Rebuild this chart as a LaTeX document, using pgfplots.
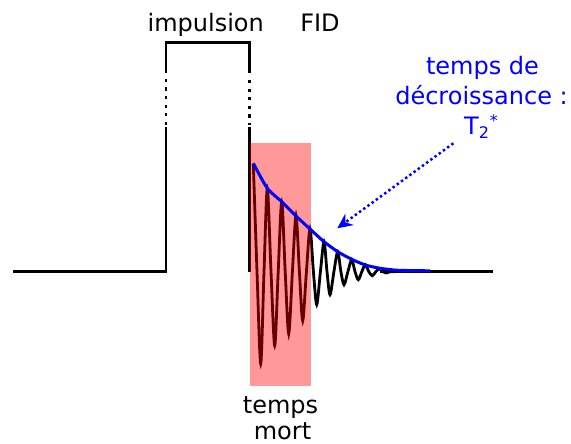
\documentclass[border=0pt]{standalone}
\usepackage{fontspec}
\setmainfont{DejaVu Sans}
\usepackage{pgfplots}
\pgfplotsset{compat=1.18}
\usetikzlibrary{arrows.meta}

\tikzset{lab/.style={anchor=base, inner sep=0pt, font=\fontsize{12}{14}\selectfont}}

% drawing units: 1 unit = 1 px of the 571x443 reference, y downwards
\begin{document}
\begin{tikzpicture}
\begin{axis}[
  width=285.5pt, height=221.5pt, scale only axis,
  xmin=0, xmax=571, ymin=0, ymax=443, y dir=reverse,
  hide axis, clip=false,
]
% invisible frame so the page is the whole drawing area
\addplot[draw=none] coordinates {(0,0)(571,443)};

% pulse and baseline
\addplot[black, line width=1.25pt] coordinates {(13.3,271.7)(166,271.7)(166,127)};
\addplot[black, line width=1.4pt, dash pattern=on 1.6pt off 2.7pt] coordinates {(166,125)(166,75)};
\addplot[black, line width=1.25pt] coordinates {(166,73)(166,42.7)(249.3,42.7)(249.3,73)};
\addplot[black, line width=1.4pt, dash pattern=on 1.6pt off 2.7pt] coordinates {(249.3,80)(249.3,125)};
\addplot[black, line width=1.25pt] coordinates {(249.3,127)(249.3,271.7)};
\addplot[black, line width=1.25pt] coordinates {(380,271.7)(493.3,271.7)};

% free induction decay
\addplot[black, line width=1.4pt, smooth] coordinates {
  (253.3,163.5)(257,271.7)(260.7,363.7)(264,271.7)
  (267.3,188.5)(271,271.7)(274.7,345.7)(278.2,271.7)
  (281.7,201.7)(285.2,271.7)(288.7,333.7)(292.4,271.7)
  (296,215.7)(299.4,271.7)(302.7,320.7)(306.4,271.7)
  (310,228.7)(313.4,271.7)(316.7,304.7)(320.4,271.7)
  (324,241.7)(327,271.7)(330,294.7)(333.9,271.7)
  (337.7,251.7)(340.9,271.7)(344,284.7)(347.9,271.7)
  (351.7,259.7)(355,271.7)(358.3,279.7)(361.8,271.7)
  (365.3,264.7)(368.8,271.7)(372.3,275.7)(375.8,271.7)
  (379.5,268.7)(383,271.7)(386,273)(390,271.7)(395,271.7)
};

% dead time
\addplot[draw=none, fill=red, fill opacity=0.4] coordinates {
  (249.5,143)(310.5,143)(310.5,386)(249.5,386)} -- cycle;

% T2* envelope
\addplot[blue, line width=1.5pt, smooth, tension=0.4] coordinates {
  (253.3,163.3)(267.3,188.3)(281.7,201.7)(296,216)(310,229)(324,241.7)
  (337.7,251.7)(351.7,259.3)(365.3,265)(380,268.3)(396.7,270.2)(413,270.6)(430,270.8)};

% arrow
\addplot[blue, line width=1.25pt, dash pattern=on 1.2pt off 1.4pt,
  -{Stealth[length=7.5pt,width=7pt]}] coordinates {(453.3,143.3)(337.3,228.3)};

% labels
\node[lab] at (axis cs:205.7,31.7) {impulsion};
\node[lab] at (axis cs:320,31.7) {FID};
\node[lab, text=blue] at (axis cs:482.5,75) {temps de};
\node[lab, text=blue] at (axis cs:481.5,105) {décroissance :};
\node[lab, text=blue] at (axis cs:481.5,135) {T\textsubscript{2}\textsuperscript{*}};
\node[lab] at (axis cs:280.5,413.3) {temps};
\node[lab] at (axis cs:282.5,439.3) {mort};
\end{axis}
\end{tikzpicture}
\end{document}
